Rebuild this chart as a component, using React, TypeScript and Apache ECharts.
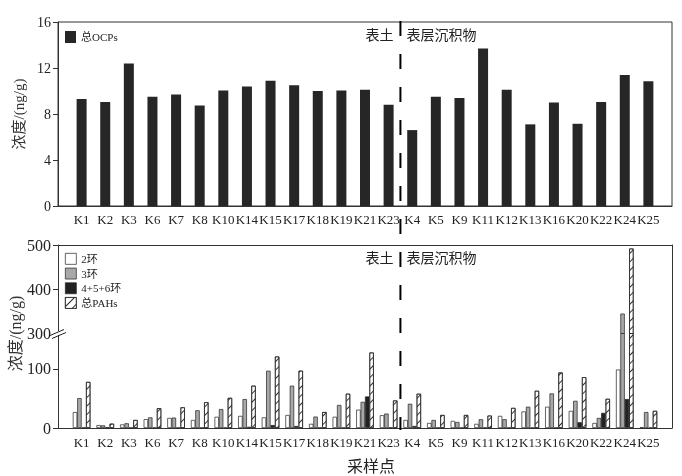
import React, { useEffect, useRef } from 'react';
import * as echarts from 'echarts';

const sites = ['K1', 'K2', 'K3', 'K6', 'K7', 'K8', 'K10', 'K14', 'K15', 'K17', 'K18', 'K19', 'K21', 'K23', 'K4', 'K5', 'K9', 'K11', 'K12', 'K13', 'K16', 'K20', 'K22', 'K24', 'K25'];
const soilCount = 14;
const ocpTotal = [9.3, 9.05, 12.4, 9.5, 9.7, 8.75, 10.05, 10.4, 10.9, 10.5, 10.0, 10.05, 10.1, 8.8, 6.6, 9.5, 9.4, 13.7, 10.1, 7.1, 9.0, 7.15, 9.05, 11.4, 10.85];
const pah2 = [27, 5, 6, 15, 17, 13.6, 19, 20.5, 18, 22, 7, 19, 31, 21.6, 13.6, 8.5, 12, 7, 20.5, 28, 36, 29, 8.5, 99, 1.2];
const pah3 = [50.6, 4.5, 8, 18, 17.6, 30, 32, 49, 97, 71.6, 19.3, 39, 44.3, 24.4, 41, 13.6, 10.2, 14.8, 14.8, 36, 58.5, 46, 17, 345, 27];
const pah456 = [0.8, 1.5, 0.5, 0.5, 0.5, 0.5, 0.5, 2, 5, 3.4, 0.5, 0.5, 53.4, 1, 3.4, 0.5, 0.5, 0.5, 0.5, 0.5, 0.5, 9.7, 25.6, 49, 0.5];
const pahTotal = [78, 7.3, 13.6, 33.5, 35, 43.7, 51, 71.6, 121, 97, 27, 58, 127.8, 46.6, 58, 22, 22, 21, 34, 63, 94, 86, 49.4, 492, 29];
const ocpTicks = [0, 4, 8, 12, 16];
const pahLowTicks = [0, 100];
const pahHighTicks = [300, 400, 500];
const pahTickMarksHigh = [400, 500];

const FONT = "'Liberation Serif', 'Noto Sans CJK SC', serif";
const L = 58;
const R = 672;
const W = R - L;
const TOP1 = 22;
const BOT1 = 206;
const TOP2 = 245;
const BREAK = 333.5;
const BOT2 = 428;
const LOW_MAX = 160;

export default function App() {
  const ref = useRef<HTMLDivElement>(null);
  useEffect(() => {
    if (!ref.current) return;
    const chart = echarts.init(ref.current, null, { renderer: 'svg' });
    const cats = ['', ...sites, ''];
    const pad = (a: number[]) => [null, ...a, null];
    const divX = L + (soilCount + 0.5) * (W / (cats.length - 1));
    const lineColor = '#333';
    const border = { borderColor: '#222', borderWidth: 0.7 };
    const pahSeries = (xi: number, yi: number) => [
      { name: '2环', data: pad(pah2), itemStyle: { color: '#ffffff', ...border } },
      { name: '3环', data: pad(pah3), itemStyle: { color: '#a8a8a8', ...border } },
      { name: '4+5+6环', data: pad(pah456), itemStyle: { color: '#222222', ...border } },
      {
        name: '总PAHs', data: pad(pahTotal),
        itemStyle: {
          color: '#ffffff', ...border,
          decal: { symbol: 'rect', symbolSize: 1, color: '#333', dashArrayX: [1, 0], dashArrayY: [0.7, 5], rotation: -Math.PI / 4 },
        },
      },
    ].map((s) => ({ ...s, type: 'bar', xAxisIndex: xi, yAxisIndex: yi, barWidth: 4.4, barGap: '0%', clip: true }));

    const labelStyle = { color: '#222', fontFamily: FONT };
    const axLine = { show: true, onZero: false, lineStyle: { color: lineColor } };
    const option: any = {
      animation: false,
      textStyle: { fontFamily: FONT },
      grid: [
        { left: L, right: 682 - R, top: TOP1, height: BOT1 - TOP1, show: true, borderColor: lineColor, borderWidth: 1 },
        { left: L, right: 682 - R, top: BREAK, height: BOT2 - BREAK },
        { left: L, right: 682 - R, top: TOP2, height: BREAK - TOP2 },
      ],
      legend: [
        {
          data: ['总OCPs'], left: 65, top: 31, padding: 0, itemWidth: 11, itemHeight: 12, icon: 'rect',
          textStyle: { fontSize: 11, ...labelStyle },
        },
        {
          data: ['2环', '3环', '4+5+6环', '总PAHs'], orient: 'vertical', left: 65, top: 253, padding: 0, icon: 'rect',
          itemWidth: 11, itemHeight: 11, itemGap: 3, textStyle: { fontSize: 11, ...labelStyle },
          itemStyle: { borderWidth: 0.7, borderColor: '#222' },
        },
      ],
      xAxis: [
        {
          gridIndex: 0, type: 'category', data: cats, boundaryGap: false,
          axisLine: axLine, axisTick: { show: false },
          axisLabel: { interval: 0, fontSize: 13, margin: 7, ...labelStyle },
        },
        {
          gridIndex: 1, type: 'category', data: cats, boundaryGap: false,
          axisLine: axLine, axisTick: { show: false },
          axisLabel: { interval: 0, fontSize: 13, margin: 8, ...labelStyle },
          name: '采样点', nameLocation: 'middle', nameGap: 30,
          nameTextStyle: { fontSize: 16, color: '#222', fontFamily: FONT, padding: [0, 0, 0, 12] },
        },
        {
          gridIndex: 2, type: 'category', data: cats, boundaryGap: false, position: 'top',
          axisLine: axLine, axisTick: { show: false }, axisLabel: { show: false },
        },
      ],
      yAxis: [
        {
          gridIndex: 0, type: 'value', min: 0, max: 16, interval: 4,
          axisLine: axLine,
          axisTick: { show: true, length: 5, customValues: ocpTicks, lineStyle: { color: lineColor } },
          axisLabel: { fontSize: 14, margin: 7, customValues: ocpTicks, ...labelStyle },
          splitLine: { show: false },
          name: '浓度/(ng/g)', nameLocation: 'middle', nameGap: 22,
          nameTextStyle: { fontSize: 15, color: '#333', fontFamily: FONT },
        },
        {
          gridIndex: 1, type: 'value', min: 0, max: LOW_MAX, interval: 100,
          axisLine: axLine,
          axisTick: { show: true, length: 5, customValues: pahLowTicks, lineStyle: { color: lineColor } },
          axisLabel: { fontSize: 16, margin: 7, customValues: pahLowTicks, ...labelStyle },
          splitLine: { show: false },
        },
        {
          gridIndex: 2, type: 'value', min: 300, max: 500, interval: 100,
          axisLine: axLine,
          axisTick: { show: true, length: 5, customValues: pahTickMarksHigh, lineStyle: { color: lineColor } },
          axisLabel: { fontSize: 16, margin: 7, customValues: pahHighTicks, ...labelStyle },
          splitLine: { show: false },
        },
        {
          gridIndex: 1, type: 'value', position: 'right', min: 0, max: 1,
          axisLine: axLine, axisTick: { show: false },
          axisLabel: { show: false }, splitLine: { show: false },
        },
        {
          gridIndex: 2, type: 'value', position: 'right', min: 0, max: 1,
          axisLine: axLine, axisTick: { show: false },
          axisLabel: { show: false }, splitLine: { show: false },
        },
      ],
      series: [
        {
          name: '总OCPs', type: 'bar', xAxisIndex: 0, yAxisIndex: 0, data: pad(ocpTotal), barWidth: 10,
          itemStyle: { color: '#262626' },
        },
        ...pahSeries(1, 1),
        ...pahSeries(2, 2),
      ],
      graphic: [
        {
          type: 'line', z: 100,
          shape: { x1: divX, y1: TOP1 - 1, x2: divX, y2: BOT2 + 2 },
          style: { stroke: '#000', lineWidth: 2, lineDash: [15, 18] },
        },
        { type: 'text', x: divX - 7, y: 35, style: { text: '表土', align: 'right', verticalAlign: 'middle', fontSize: 14, fontFamily: FONT, fill: '#222' } },
        { type: 'text', x: divX + 6, y: 35, style: { text: '表层沉积物', align: 'left', verticalAlign: 'middle', fontSize: 14, fontFamily: FONT, fill: '#222' } },
        { type: 'text', x: divX - 7, y: 258, style: { text: '表土', align: 'right', verticalAlign: 'middle', fontSize: 14, fontFamily: FONT, fill: '#222' } },
        { type: 'text', x: divX + 6, y: 258, style: { text: '表层沉积物', align: 'left', verticalAlign: 'middle', fontSize: 14, fontFamily: FONT, fill: '#222' } },
        { type: 'text', x: 15, y: (TOP2 + BOT2) / 2 - 3, rotation: Math.PI / 2, style: { text: '浓度/(ng/g)', align: 'center', verticalAlign: 'middle', fontSize: 16, fontFamily: FONT, fill: '#333' } },
        { type: 'rect', z: 99, shape: { x: L - 3, y: BREAK - 2.5, width: 6, height: 4 }, style: { fill: '#fff' } },
        { type: 'line', z: 100, shape: { x1: L - 8, y1: BREAK + 2, x2: L + 6, y2: BREAK - 4 }, style: { stroke: '#222', lineWidth: 1 } },
        { type: 'line', z: 100, shape: { x1: L - 6, y1: BREAK + 5, x2: L + 8, y2: BREAK - 1 }, style: { stroke: '#222', lineWidth: 1 } },
      ],
    };
    chart.setOption(option);
    return () => chart.dispose();
  }, []);
  return <div ref={ref} style={{ position: 'fixed', left: 0, top: 0, width: 682, height: 476 }} />;
}
